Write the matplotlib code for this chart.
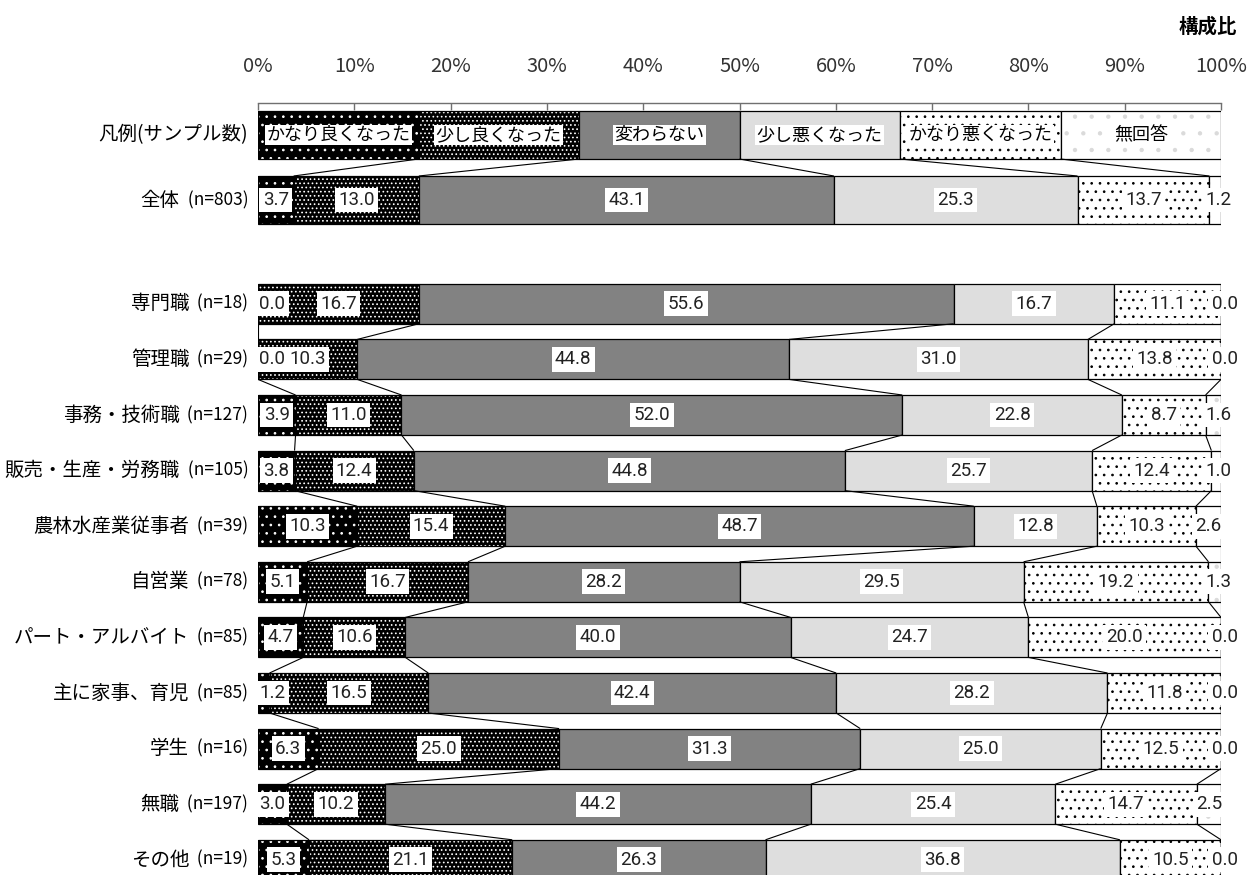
import matplotlib
matplotlib.use('Agg')
import matplotlib.pyplot as plt
import numpy as np

plt.rcParams['font.family'] = ['Noto Sans CJK JP', 'DejaVu Sans']
plt.rcParams['hatch.linewidth'] = 0.7

# 回答の選択肢
answers = ['かなり良くなった', '少し良くなった', '変わらない',
           '少し悪くなった', 'かなり悪くなった', '無回答']

# 全体
total_label = '全体'
total_n = 803
total_vals = [3.7, 13.0, 43.1, 25.3, 13.7, 1.2]

# 職業別
jobs = ['専門職', '管理職', '事務・技術職', '販売・生産・労務職', '農林水産業従事者',
        '自営業', 'パート・アルバイト', '主に家事、育児', '学生', '無職', 'その他']
jobs_n = [18, 29, 127, 105, 39, 78, 85, 85, 16, 197, 19]
jobs_vals = [
    [0.0, 16.7, 55.6, 16.7, 11.1, 0.0],
    [0.0, 10.3, 44.8, 31.0, 13.8, 0.0],
    [3.9, 11.0, 52.0, 22.8, 8.7, 1.6],
    [3.8, 12.4, 44.8, 25.7, 12.4, 1.0],
    [10.3, 15.4, 48.7, 12.8, 10.3, 2.6],
    [5.1, 16.7, 28.2, 29.5, 19.2, 1.3],
    [4.7, 10.6, 40.0, 24.7, 20.0, 0.0],
    [1.2, 16.5, 42.4, 28.2, 11.8, 0.0],
    [6.3, 25.0, 31.3, 25.0, 12.5, 0.0],
    [3.0, 10.2, 44.2, 25.4, 14.7, 2.5],
    [5.3, 21.1, 26.3, 36.8, 10.5, 0.0],
]

# 塗り (地の色, ハッチ, ハッチの色)
styles = [
    ('black', '..', 'white'),
    ('black', '....', 'white'),
    ('#828282', None, None),
    ('#dedede', None, None),
    ('white', '..', 'black'),
    ('white', '.', '#dadada'),
]

# レイアウト (縦はピクセル行)
LEG_Y = 135
TOT_Y = 200
BIG_H = 48
ROW0 = 303.8
PITCH = 55.6
ROW_H = 40

fig = plt.figure(figsize=(12.55, 8.75), dpi=100)
ax = fig.add_axes([258 / 1255, 0, 963 / 1255, 772 / 875])
ax.set_xlim(0, 100)
ax.set_ylim(875, 103)


def cumul(vals):
    w = np.array(vals, dtype=float)
    w = w / w.sum() * 100
    return w, np.concatenate([[0], np.cumsum(w)])


def draw_row(y, vals, h):
    w, c = cumul(vals)
    for k in range(len(w)):
        fc, hatch, hc = styles[k]
        ax.barh(y, w[k], left=c[k], height=h, color=fc, hatch=hatch,
                edgecolor=hc if hc else fc, linewidth=0)
        ax.barh(y, w[k], left=c[k], height=h, fill=False,
                edgecolor='black', linewidth=0.9)
    return c


def value_labels(y, vals, c):
    n = len(vals)
    for k, v in enumerate(vals):
        x = (c[k] + c[k + 1]) / 2
        if k == 0:
            x = max(x, 1.5)
        if k == n - 1:
            if v == 0:
                x = 100.4
            elif v < 2:
                x = max(x, 99.7)
        ax.text(x, y, f'{v:.1f}', ha='center', va='center', fontsize=13.5,
                family='Roboto', color='#222222', clip_on=False,
                bbox=dict(boxstyle='square,pad=0.18', fc='white', ec='none'))


def connect(c_a, y_a, h_a, c_b, y_b, h_b):
    for k in range(1, len(c_a)):
        ax.plot([c_a[k], c_b[k]], [y_a + h_a / 2, y_b - h_b / 2],
                color='black', lw=0.8, solid_capstyle='butt')


def row_label(y, name, n):
    nt = ax.text(-1.0, y, f'  (n={n})', ha='right', va='center', fontsize=12.5,
                 color='black', clip_on=False)
    ax.annotate(name, xy=(0, 0.5), xycoords=nt, ha='right', va='center',
                fontsize=14, color='black')


# 凡例の行
leg_vals = [100 / 6] * 6
c_leg = draw_row(LEG_Y, leg_vals, BIG_H)
for k, a in enumerate(answers):
    ax.text((c_leg[k] + c_leg[k + 1]) / 2, LEG_Y, a, ha='center', va='center',
            fontsize=13, color='black',
            bbox=dict(boxstyle='square,pad=0.08', fc='white', ec='none'))
ax.text(-1.0, LEG_Y, '凡例(サンプル数)', ha='right', va='center', fontsize=14,
        clip_on=False)

# 全体
c_tot = draw_row(TOT_Y, total_vals, BIG_H)
value_labels(TOT_Y, total_vals, c_tot)
row_label(TOT_Y, total_label, total_n)
connect(c_leg, LEG_Y, BIG_H, c_tot, TOT_Y, BIG_H)

# 職業別
prev = None
for i, (name, n, vals) in enumerate(zip(jobs, jobs_n, jobs_vals)):
    y = ROW0 + i * PITCH
    c = draw_row(y, vals, ROW_H)
    value_labels(y, vals, c)
    row_label(y, name, n)
    if prev is not None:
        connect(prev[0], prev[1], ROW_H, c, y, ROW_H)
    prev = (c, y)

# 軸
ax.xaxis.tick_top()
ax.set_xticks(range(0, 101, 10))
ax.set_xticklabels([f'{t}%' for t in range(0, 101, 10)])
ax.tick_params(axis='x', direction='in', length=5, width=1, color='#707070',
               pad=19, labelsize=14.5, labelcolor='#333333')
ax.set_yticks([])
for s in ['left', 'right', 'bottom']:
    ax.spines[s].set_visible(False)
ax.spines['top'].set_color('#707070')
ax.spines['top'].set_linewidth(1)

fig.text(1237 / 1255, 1 - 27 / 875, '構成比', ha='right', va='center',
         fontsize=14, weight='bold')

plt.savefig('out.png', dpi=100)
